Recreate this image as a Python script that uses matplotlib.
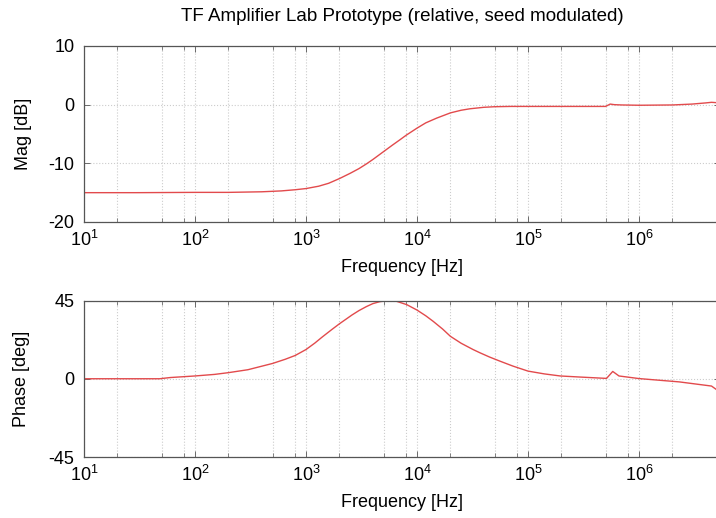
import math
import matplotlib
matplotlib.use("Agg")
import matplotlib.pyplot as plt
from matplotlib.ticker import LogLocator, NullFormatter, FuncFormatter

plt.rcParams['font.family'] = ['Liberation Sans', 'DejaVu Sans']
plt.rcParams['mathtext.fontset'] = 'custom'
plt.rcParams['mathtext.rm'] = 'Liberation Sans'
plt.rcParams['mathtext.it'] = 'Liberation Sans'
plt.rcParams['axes.unicode_minus'] = False

# Data
mag_freq = [10, 30, 100, 200, 400, 600, 800, 1000, 1300, 1600, 2000, 2500, 3000,
            3500, 4000, 5000, 6000, 7000, 8000, 10000, 12000, 15000, 20000, 25000,
            30000, 40000, 50000, 70000, 1e5, 2e5, 5e5, 5.5e5, 6e5, 7e5, 1e6, 2e6,
            3e6, 4e6, 4.5e6, 5.4e6]
mag_db = [-15.0, -15.0, -14.95, -14.95, -14.85, -14.7, -14.5, -14.3, -13.9, -13.4,
          -12.6, -11.7, -10.9, -10.1, -9.35, -8.0, -6.9, -6.0, -5.2, -4.0, -3.1,
          -2.3, -1.4, -0.95, -0.7, -0.45, -0.35, -0.3, -0.3, -0.3, -0.3, 0.1, 0.0,
          -0.05, -0.1, -0.05, 0.1, 0.3, 0.4, 0.3]

ph_freq = [10, 48, 60, 100, 150, 200, 300, 500, 650, 800, 1000, 1200, 1400, 1700,
           2000, 2600, 3000, 3500, 4000, 4600, 5500, 6500, 8100, 10000, 12000,
           14000, 17000, 20000, 25000, 32000, 37000, 45000, 56000, 73000, 1e5,
           1.4e5, 1.95e5, 2.9e5, 5.1e5, 5.8e5, 6.6e5, 1e6, 2.3e6, 4.5e6, 5.4e6]
ph_deg = [0.0, 0.0, 0.7, 1.6, 2.5, 3.5, 5.2, 8.8, 11.2, 13.4, 16.8, 20.5, 24.0, 28.2,
          31.6, 36.7, 39.2, 41.5, 43.2, 44.3, 45.0, 44.6, 42.6, 39.5, 36.2,
          33.0, 28.6, 24.4, 20.4, 16.8, 14.9, 12.5, 10.1, 7.3, 4.4,
          2.8, 1.6, 1.0, 0.2, 4.2, 1.6, 0.1, -1.8, -4.2, -7.8]

mag_ticks = [-20, -10, 0, 10]
ph_ticks = [-45, 0, 45]

title = "TF Amplifier Lab Prototype (relative, seed modulated)"
xlabel = "Frequency [Hz]"

W, H = 716, 518
fig = plt.figure(figsize=(W / 100, H / 100), dpi=100)

left = 84 / W
right_px = 720
width = (right_px - 84) / W
xmax = 10 ** (1 + (right_px - 84) / 111.0)

ax1 = fig.add_axes([left, 1 - 222 / H, width, (222 - 46) / H])
ax2 = fig.add_axes([left, 1 - 457 / H, width, (457 - 300.5) / H])

red = '#e24a4c'
spine_c = '#555555'
fs = 13

def style(ax, ticks):
    ax.set_xscale('log')
    ax.set_xlim(10, xmax)
    ax.set_ylim(ticks[0], ticks[-1])
    ax.set_yticks(ticks)
    ax.xaxis.set_major_locator(LogLocator(base=10, numticks=20))
    ax.xaxis.set_minor_locator(LogLocator(base=10, subs=[2, 5, 8], numticks=20))
    ax.xaxis.set_minor_formatter(NullFormatter())
    ax.xaxis.set_major_formatter(FuncFormatter(lambda v, p: r'$10^{%d}$' % round(math.log10(v))))
    ax.tick_params(axis='both', which='both', direction='in', top=True, right=True,
                   colors=spine_c, labelcolor='black', labelsize=fs)
    ax.tick_params(which='major', length=4, width=0.6)
    ax.tick_params(which='minor', length=3, width=0.5)
    ax.tick_params(axis='x', pad=6)
    ax.tick_params(axis='y', pad=7)
    for s in ax.spines.values():
        s.set_color(spine_c)
        s.set_linewidth(0.9)
    ax.grid(True, which='both', axis='x', color='#cccccc', linestyle=':', linewidth=0.8)
    ax.grid(True, which='major', axis='y', color='#cccccc', linestyle=':', linewidth=0.8)
    ax.set_xlabel(xlabel, fontsize=fs, labelpad=6)

ax1.plot(mag_freq, mag_db, color=red, linewidth=1.0)
style(ax1, mag_ticks)
ax1.set_ylabel('Mag [dB]', fontsize=fs, labelpad=12)
ax1.set_title(title, fontsize=13.5, pad=18)

ax2.plot(ph_freq, ph_deg, color=red, linewidth=1.0)
style(ax2, ph_ticks)
ax2.set_ylabel('Phase [deg]', fontsize=fs, labelpad=13)

fig.savefig('out.png', dpi=100)
